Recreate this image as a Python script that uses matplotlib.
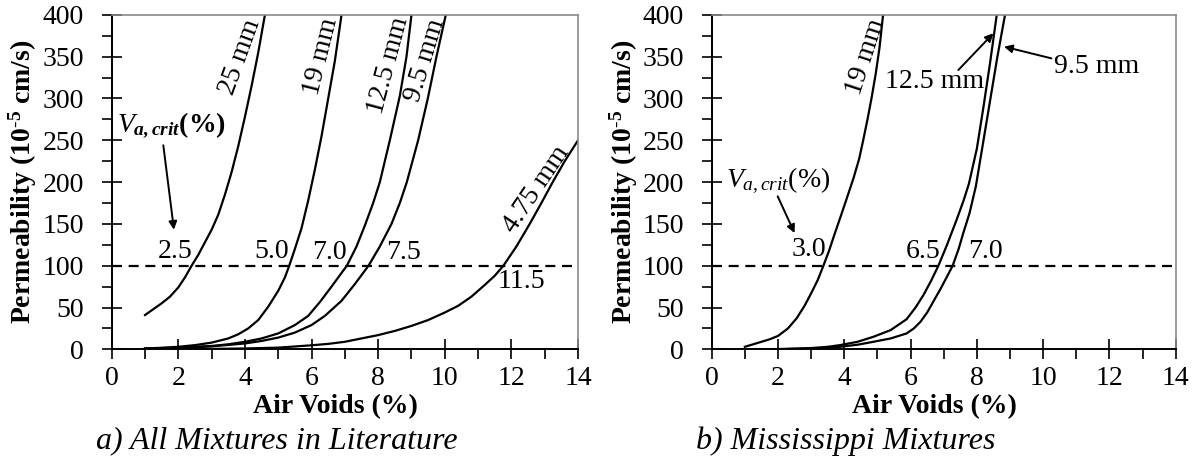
import numpy as np
import matplotlib
matplotlib.use("Agg")
import matplotlib.pyplot as plt

plt.rcParams['font.family'] = ['Liberation Serif', 'DejaVu Serif']
plt.rcParams['mathtext.fontset'] = 'custom'
plt.rcParams['mathtext.rm'] = 'Liberation Serif'
plt.rcParams['mathtext.it'] = 'Liberation Serif:italic'
plt.rcParams['mathtext.bf'] = 'Liberation Serif:bold'
plt.rcParams['mathtext.bfit'] = 'Liberation Serif:bold:italic'

# ---- data: air voids (%) vs permeability (1e-5 cm/s)
# a) all mixtures in literature
lit_va_25 = [1.0, 1.25, 1.5, 1.75, 2.0, 2.2, 2.4, 2.6, 2.8, 3.0, 3.2, 3.4, 3.6, 3.8,
             4.0, 4.2, 4.4, 4.6]
lit_k_25 = [41, 48, 55, 63, 74, 86, 100, 113, 128, 143, 161, 185, 212, 243,
            278, 315, 355, 400]
lit_va_19 = [1.0, 1.5, 2.0, 2.5, 3.0, 3.5, 3.8, 4.1, 4.4, 4.7, 5.0, 5.2, 5.33, 5.5,
             5.7, 5.9, 6.1, 6.3, 6.5, 6.7, 6.9]
lit_k_19 = [1, 1.8, 3, 5, 8, 13, 18, 25, 35, 51, 70, 86, 100, 120,
            145, 178, 215, 255, 300, 345, 400]
lit_va_125 = [1.0, 2.0, 3.0, 3.5, 4.0, 4.5, 5.0, 5.5, 5.9, 6.26, 6.6, 7.06, 7.35,
              7.6, 7.85, 8.05, 8.35, 8.65, 8.85, 9.0]
lit_k_125 = [1, 2, 4, 6, 9, 13, 19, 29, 40, 57, 75, 100, 123,
             148, 175, 200, 250, 303, 350, 400]
lit_va_95 = [1.0, 2.0, 3.0, 4.0, 4.5, 5.0, 5.5, 6.0, 6.4, 6.9, 7.3, 7.71, 8.05,
             8.4, 8.65, 8.86, 9.2, 9.49, 9.75, 10.03]
lit_k_95 = [0.5, 1.5, 3.5, 7, 10, 14, 20, 29, 40, 58, 78, 100, 123,
            150, 175, 200, 250, 300, 350, 400]
lit_va_475 = [1.0, 2.0, 3.0, 4.0, 5.0, 6.0, 6.5, 7.0, 7.5, 8.0, 8.5, 9.0, 9.5,
              10.0, 10.4, 10.8, 11.2, 11.5, 11.76, 12.15, 12.55, 12.9, 13.24,
              13.6, 14.0]
lit_k_475 = [0, 0.2, 0.5, 1, 2, 4.8, 6.5, 9, 13, 17, 22, 28, 35,
             44, 52, 63, 77, 88, 100, 123, 150, 175, 200, 225, 250]

# b) Mississippi mixtures
ms_va_19 = [1.0, 1.25, 1.5, 1.75, 2.0, 2.3, 2.56, 2.8, 3.0, 3.2, 3.37, 3.55, 3.7,
            3.9, 4.07, 4.28, 4.45, 4.57, 4.7, 4.82, 4.95, 5.06, 5.17]
ms_k_19 = [3, 6, 9, 12, 16, 25, 37, 52, 67, 83, 100, 119, 137,
           160, 180, 205, 228, 250, 275, 300, 330, 360, 400]
ms_va_125 = [1.0, 2.0, 3.0, 3.5, 3.87, 4.4, 4.88, 5.4, 5.88, 6.15, 6.39, 6.62, 6.84,
             7.1, 7.39, 7.6, 7.76, 8.0, 8.2, 8.4, 8.6]
ms_k_125 = [0, 0.3, 1.5, 3, 5, 9, 15, 23, 36, 50, 65, 82, 100,
            125, 155, 178, 198, 240, 290, 343, 400]
ms_va_95 = [1.0, 2.0, 3.0, 3.5, 3.87, 4.4, 4.88, 5.4, 5.88, 6.1, 6.3, 6.5, 6.7,
            6.9, 7.1, 7.27, 7.45, 7.59, 7.78, 7.97, 8.18, 8.41, 8.62, 8.85]
ms_k_95 = [0, 0.1, 0.8, 1.7, 3, 5.5, 9, 13, 19, 25, 33, 44, 58,
           72, 87, 100, 120, 139, 163, 195, 245, 300, 350, 400]

k_crit = 100
lit_crit = ['2.5', '5.0', '7.0', '7.5', '11.5']
ms_crit = ['3.0', '6.5', '7.0']

FS = 20

fig = plt.figure(figsize=(11.97, 4.65), dpi=100)
ax1 = fig.add_axes([0.0933, 0.2488, 0.3896, 0.7192])
ax2 = fig.add_axes([0.5946, 0.2488, 0.3876, 0.7192])


def style(ax):
    ax.set_xlim(0, 14)
    ax.set_ylim(0, 400)
    ax.set_xticks(np.arange(0, 15, 2))
    ax.set_xticks(np.arange(1, 14, 2), minor=True)
    ax.set_yticks(np.arange(0, 401, 50))
    ax.set_yticks(np.arange(25, 400, 50), minor=True)
    ax.tick_params(which='major', direction='inout', length=14, width=1.2,
                   labelsize=FS, top=False, right=False)
    ax.tick_params(axis='y', which='major', pad=13)
    ax.tick_params(axis='x', which='major', pad=5)
    ax.tick_params(which='minor', direction='out', length=7, width=1.2,
                   top=False, right=False)
    for s in ['top', 'right']:
        ax.spines[s].set_color('#8a8a8a')
        ax.spines[s].set_linewidth(1.2)
    for s in ['left', 'bottom']:
        ax.spines[s].set_linewidth(1.4)
    ax.axhline(k_crit, color='black', lw=1.6, ls=(0, (4.5, 3)), zorder=1)
    ax.set_xlabel('Air Voids (%)', fontsize=FS, fontweight='bold')
    ax.xaxis.set_label_coords(0.48, -0.135)
    ax.set_ylabel('Permeability (10$^{\\mathbf{\\text{-}5}}$ cm/s)', fontsize=FS,
                  fontweight='bold')
    ax.yaxis.set_label_coords(-0.155, 0.5)


for ax in (ax1, ax2):
    style(ax)

lw = 1.6
ax1.plot(lit_va_25, lit_k_25, color='black', lw=lw)
ax1.plot(lit_va_19, lit_k_19, color='black', lw=lw)
ax1.plot(lit_va_125, lit_k_125, color='black', lw=lw)
ax1.plot(lit_va_95, lit_k_95, color='black', lw=lw)
ax1.plot(lit_va_475, lit_k_475, color='black', lw=lw)

ax2.plot(ms_va_19, ms_k_19, color='black', lw=lw)
ax2.plot(ms_va_125, ms_k_125, color='black', lw=lw)
ax2.plot(ms_va_95, ms_k_95, color='black', lw=lw)

# curve labels, panel a
ax1.text(3.85, 350, '25 mm', rotation=70, fontsize=FS, ha='center', va='center')
ax1.text(6.28, 350, '19 mm', rotation=76, fontsize=FS, ha='center', va='center')
ax1.text(8.31, 340, '12.5 mm', rotation=75, fontsize=FS, ha='center', va='center')
ax1.text(9.41, 346, '9.5 mm', rotation=73, fontsize=FS, ha='center', va='center')
ax1.text(12.76, 191, '4.75 mm', rotation=56, fontsize=FS, ha='center', va='center')

lit_pos = [(1.90, 117), (4.80, 117), (6.53, 116), (8.76, 116), (12.31, 81)]
for (x, y), t in zip(lit_pos, lit_crit):
    ax1.text(x, y, t, fontsize=FS, ha='center', va='center')

ax1.text(1.81, 268, '$\\mathit{V}_{\\mathbfit{a,crit}}$$\\mathbf{(\\%)}$', fontsize=FS,
         ha='center', va='center')
ax1.annotate('', xy=(1.87, 143), xytext=(1.55, 244),
             arrowprops=dict(arrowstyle='-|>', color='black', lw=1.4,
                             mutation_scale=12, shrinkA=0, shrinkB=0))

# curve labels, panel b
ax2.text(4.64, 350, '19 mm', rotation=72, fontsize=FS, ha='center', va='center')
ax2.text(6.73, 320, '12.5 mm', fontsize=FS, ha='center', va='center')
ax2.text(11.6, 338, '9.5 mm', fontsize=FS, ha='center', va='center')
ax2.annotate('', xy=(8.50, 378), xytext=(7.44, 334),
             arrowprops=dict(arrowstyle='-|>', color='black', lw=1.4,
                             mutation_scale=12, shrinkA=0, shrinkB=0))
ax2.annotate('', xy=(8.82, 362), xytext=(10.25, 348),
             arrowprops=dict(arrowstyle='-|>', color='black', lw=1.4,
                             mutation_scale=12, shrinkA=0, shrinkB=0))

ms_pos = [(2.92, 119), (6.39, 117), (8.25, 117)]
for (x, y), t in zip(ms_pos, ms_crit):
    ax2.text(x, y, t, fontsize=FS, ha='center', va='center')

ax2.text(1.99, 202, '$\\mathit{V}_{\\mathit{a,crit}}$(%)', fontsize=FS,
         ha='center', va='center')
ax2.annotate('', xy=(2.5, 139), xytext=(1.99, 183),
             arrowprops=dict(arrowstyle='-|>', color='black', lw=1.4,
                             mutation_scale=12, shrinkA=0, shrinkB=0))

fig.text(0.2314, 0.052, 'a) All Mixtures in Literature', fontsize=FS + 3,
         style='italic', ha='center', va='center')
fig.text(0.7068, 0.052, 'b) Mississippi Mixtures', fontsize=FS + 3,
         style='italic', ha='center', va='center')

fig.savefig('out.png', dpi=100)
